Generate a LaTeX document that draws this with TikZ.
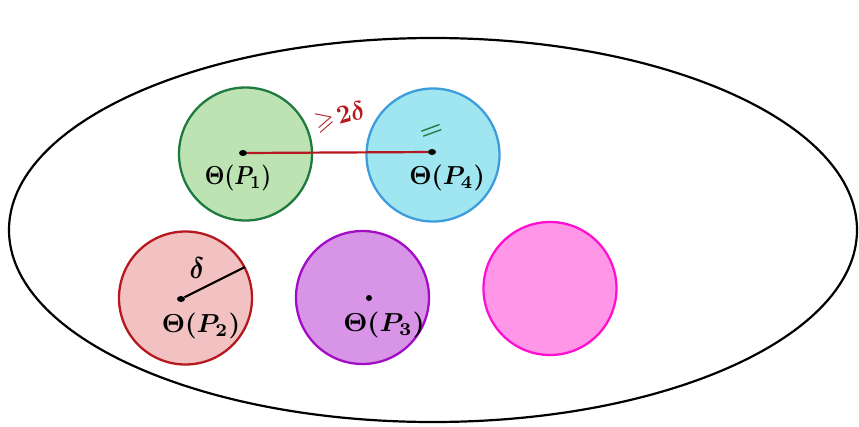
\documentclass[tikz,border=0pt]{standalone}
\usepackage{amssymb}
\usetikzlibrary{shapes.geometric}
\begin{document}
\begin{tikzpicture}[x=1pt,y=-1pt,
  blob/.style={circle,line width=2.3pt,inner sep=0pt,minimum size=133pt},
  ctr/.style={ellipse,fill=black,inner sep=0pt,minimum width=8pt,minimum height=6pt},
  lbl/.style={inner sep=0pt}]
\newcommand{\hw}[3]{\scalebox{#1}[#2]{\boldmath$#3$}}
\definecolor{gfill}{HTML}{BDE3B3}\definecolor{gline}{HTML}{1E7A3E}
\definecolor{cfill}{HTML}{A0E6F0}\definecolor{cline}{HTML}{3D9DDC}
\definecolor{rfill}{HTML}{F2C2C2}\definecolor{rline}{HTML}{B5191F}
\definecolor{pfill}{HTML}{D894E6}\definecolor{pline}{HTML}{A20CC4}
\definecolor{mfill}{HTML}{FF96E8}\definecolor{mline}{HTML}{FF10D0}
\definecolor{redtxt}{HTML}{B5191F}
\useasboundingbox (0,0) rectangle (859,426);
\draw[line width=2.2pt] (433,230) ellipse [x radius=424, y radius=192];
\node[blob,fill=gfill,draw=gline] (g) at (245.5,154) {};
\node[blob,fill=cfill,draw=cline] (c) at (433,155) {};
\node[blob,fill=rfill,draw=rline] (r) at (185.5,298) {};
\node[blob,fill=pfill,draw=pline] (p) at (362.5,297.5) {};
\node[blob,fill=mfill,draw=mline] (m) at (550,288.5) {};
\node[ctr] (d1) at (243,153) {};
\node[ctr] (d4) at (432,152) {};
\node[ctr] (d2) at (181,299) {};
\node[ctr,minimum width=6pt] (d3) at (369,298) {};
\coordinate (re) at (245,267);
\draw[rline,line width=2.2pt] (d1) -- (d4);
\draw[line width=2.2pt] (d2) -- (re);
\node[lbl] (l1) at (238,178) {\hw{2.2}{2.6}{\Theta(P_1)}};
\node[lbl] (l4) at (447,178) {\hw{2.5}{2.6}{\Theta(P_4)}};
\node[lbl] (l2) at (201,326) {\hw{2.6}{2.6}{\Theta(P_2)}};
\node[lbl] (l3) at (384,325) {\hw{2.7}{2.6}{\Theta(P_3)}};
\node[lbl] (dl) at (197,268) {\hw{2.6}{3}{\delta}};
\node[lbl,text=redtxt,rotate=15] (ge) at (340,117) {\hw{2.5}{2.6}{\geqslant\!2\delta}};
\node[lbl,text=gline,rotate=20] (eq) at (432,132) {\hw{2.6}{2.4}{=}};
\end{tikzpicture}
\end{document}
